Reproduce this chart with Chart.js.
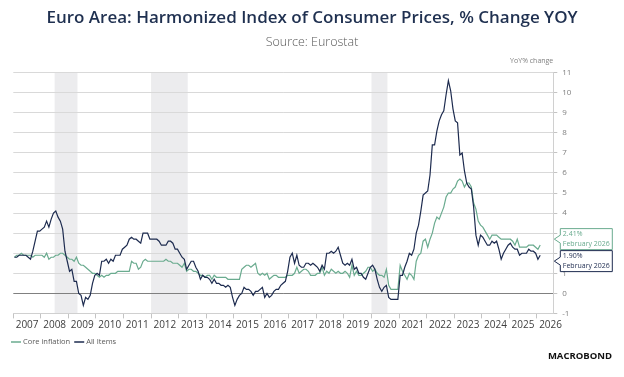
<!DOCTYPE html>
<html><head><meta charset="utf-8">
<script src="https://cdn.jsdelivr.net/npm/chart.js@4"></script>
<style>html,body{margin:0;padding:0;background:#fff;overflow:hidden}</style>
</head><body>
<canvas id="c" width="624" height="377"></canvas>
<script>
const startYear = 2007;
const titleText = "Euro Area: Harmonized Index of Consumer Prices, % Change YOY";
const subtitleText = "Source: Eurostat";
const unitText = "YoY% change";
const seriesNames = ["Core inflation", "All Items"];
const lastPeriod = "February 2026";
const recessions = [[2008.5, 2009.33], [2012.0, 2013.33], [2020.0, 2020.58]];
const yTicks = [-1, 0, 1, 2, 3, 4, 5, 6, 7, 8, 9, 10, 11];

const allItems = [
 1.8,1.8,1.9,1.9,1.9,1.9,1.8,1.7,2.1,2.6,3.1,3.1,
 3.2,3.3,3.6,3.3,3.7,4.0,4.1,3.8,3.6,3.2,2.1,1.6,
 1.1,1.2,0.6,0.6,0.0,-0.1,-0.6,-0.2,-0.3,-0.1,0.5,0.9,
 1.0,0.9,1.6,1.6,1.7,1.5,1.7,1.6,1.9,1.9,1.9,2.2,
 2.3,2.4,2.7,2.8,2.7,2.7,2.6,2.5,3.0,3.0,3.0,2.7,
 2.7,2.7,2.7,2.6,2.4,2.4,2.4,2.6,2.6,2.5,2.2,2.2,
 2.0,1.8,1.7,1.2,1.4,1.6,1.6,1.3,1.1,0.7,0.9,0.8,
 0.8,0.7,0.5,0.7,0.5,0.5,0.4,0.4,0.3,0.4,0.3,-0.2,
 -0.6,-0.3,-0.1,0.0,0.3,0.2,0.2,0.1,-0.1,0.1,0.1,0.2,
 0.3,-0.2,0.0,-0.2,-0.1,0.1,0.2,0.2,0.4,0.5,0.6,1.1,
 1.8,2.0,1.5,1.9,1.4,1.3,1.3,1.5,1.5,1.4,1.5,1.4,
 1.3,1.1,1.4,1.2,2.0,2.0,2.1,2.0,2.1,2.3,1.9,1.5,
 1.4,1.5,1.4,1.7,1.2,1.3,1.0,1.0,0.8,0.7,1.0,1.3,
 1.4,1.2,0.7,0.3,0.1,0.3,0.4,-0.2,-0.3,-0.3,-0.3,-0.3,
 0.9,0.9,1.3,1.6,2.0,1.9,2.2,3.0,3.4,4.1,4.9,5.0,
 5.1,5.9,7.4,7.4,8.1,8.6,8.9,9.1,9.9,10.6,10.1,9.2,
 8.6,8.5,6.9,7.0,6.1,5.5,5.3,5.2,4.3,2.9,2.4,2.9,
 2.8,2.6,2.4,2.4,2.6,2.5,2.6,2.2,1.7,2.0,2.2,2.4,
 2.5,2.3,2.2,2.2,1.9,2.0,2.0,2.0,2.2,2.1,2.1,2.0,
 1.7,1.90
];

const coreInflation = [
 1.8,1.9,1.9,2.0,1.9,1.9,1.9,1.9,1.8,1.9,1.9,1.9,
 1.9,1.8,2.0,1.7,1.8,1.8,1.9,1.9,2.0,2.0,1.9,1.8,
 1.7,1.7,1.6,1.8,1.5,1.4,1.4,1.3,1.2,1.1,1.0,1.0,
 0.9,0.8,0.9,0.8,0.9,0.9,1.0,1.0,1.0,1.1,1.1,1.1,
 1.1,1.1,1.1,1.6,1.5,1.5,1.2,1.3,1.6,1.7,1.6,1.6,
 1.6,1.6,1.6,1.6,1.6,1.6,1.7,1.6,1.6,1.5,1.5,1.5,
 1.4,1.3,1.5,1.1,1.2,1.2,1.1,1.1,1.0,0.9,0.9,0.8,
 0.9,0.9,0.7,0.9,0.8,0.8,0.8,0.8,0.8,0.7,0.7,0.7,
 0.7,0.7,0.7,1.2,1.3,1.4,1.4,1.3,1.4,1.5,1.0,0.9,
 1.0,0.9,1.0,0.7,0.8,0.9,0.9,0.8,0.8,0.8,0.8,0.9,
 0.9,0.9,1.0,1.3,1.0,1.1,1.2,1.2,1.1,0.9,0.9,0.9,
 1.0,1.0,1.3,0.9,1.1,1.0,1.2,1.1,1.0,1.1,1.0,1.0,
 1.1,1.0,0.8,1.4,0.9,1.1,0.9,0.9,1.0,1.1,1.3,1.3,
 1.1,1.2,1.0,0.9,0.9,0.8,1.2,0.4,0.2,0.2,0.2,0.2,
 1.4,1.1,0.9,0.7,1.0,0.9,0.7,1.6,1.9,2.0,2.6,2.7,
 2.3,2.7,3.0,3.5,3.8,3.7,4.0,4.3,4.8,5.0,5.0,5.2,
 5.3,5.6,5.7,5.6,5.3,5.5,5.5,5.3,4.5,4.2,3.6,3.4,
 3.3,3.1,2.9,2.7,2.9,2.9,2.9,2.8,2.7,2.7,2.7,2.7,
 2.7,2.6,2.4,2.7,2.3,2.3,2.3,2.3,2.4,2.4,2.4,2.3,
 2.2,2.41
];

const NAVY = '#1d2b4f', GREEN = '#6aab8f';
const toPoints = arr => arr.map((v, i) => ({x: startYear + (i + 0.5) / 12, y: v}));

Chart.defaults.font.family = "'Open Sans','Noto Sans',sans-serif";

const bandsPlugin = {
  id: 'bands',
  beforeDraw(chart) {
    const {ctx, chartArea: a, scales: {x}} = chart;
    ctx.save();
    ctx.fillStyle = '#ececee';
    recessions.forEach(([s, e]) => {
      const x0 = x.getPixelForValue(s), x1 = x.getPixelForValue(e);
      ctx.fillRect(x0, a.top, x1 - x0, a.bottom - a.top);
    });
    ctx.restore();
  }
};

function callout(ctx, cy, left, tipX, color, l1, l2) {
  const right = left + 52, h = 21, top = cy - h / 2;
  ctx.beginPath();
  ctx.moveTo(left, top); ctx.lineTo(right, top); ctx.lineTo(right, top + h); ctx.lineTo(left, top + h);
  ctx.lineTo(left, cy + 4); ctx.lineTo(tipX, cy); ctx.lineTo(left, cy - 4); ctx.closePath();
  ctx.fillStyle = '#fff'; ctx.fill();
  ctx.strokeStyle = color; ctx.lineWidth = 1; ctx.stroke();
  ctx.fillStyle = color; ctx.textAlign = 'left'; ctx.textBaseline = 'middle';
  ctx.font = "7px 'Open Sans'";
  ctx.fillText(l1, left + 2.5, top + 5.5);
  ctx.fillText(l2, left + 2.5, top + 15.5);
}

const textPlugin = {
  id: 'texts',
  afterDraw(chart) {
    const {ctx, chartArea: a, scales: {y}} = chart;
    ctx.save();
    ctx.textAlign = 'center'; ctx.textBaseline = 'middle';
    ctx.fillStyle = '#1f3050';
    ctx.font = "600 17px 'Open Sans'";
    ctx.fillText(titleText, 312, 18);
    ctx.fillStyle = '#595959';
    ctx.font = "300 12.5px 'Open Sans'";
    ctx.fillText(subtitleText, 312, 42);
    ctx.fillStyle = '#808080';
    ctx.font = "7px 'Open Sans'";
    ctx.textAlign = 'right';
    ctx.fillText(unitText, a.right, 61);
    // legend
    ctx.textAlign = 'left';
    ctx.font = "7.5px 'Open Sans'";
    let lx = 11;
    [[seriesNames[0], GREEN], [seriesNames[1], NAVY]].forEach(([t, c]) => {
      ctx.strokeStyle = c; ctx.lineWidth = 1.5;
      ctx.beginPath(); ctx.moveTo(lx, 342); ctx.lineTo(lx + 10, 342); ctx.stroke();
      ctx.fillStyle = '#595959';
      ctx.fillText(t, lx + 12, 342);
      lx += 12 + ctx.measureText(t).width + 4;
    });
    // logo
    ctx.fillStyle = '#111';
    ctx.font = "bold 9.5px 'Open Sans'";
    ctx.textAlign = 'right';
    ctx.fillText('MACROBOND', 612, 356);
    // callouts
    const cv = coreInflation[coreInflation.length - 1], av = allItems[allItems.length - 1];
    let cy1 = y.getPixelForValue(cv), cy2 = y.getPixelForValue(av);
    const mid = (cy1 + cy2) / 2;
    if (cy2 - cy1 < 22) { cy1 = mid - 11; cy2 = mid + 11; }
    callout(ctx, cy1, a.right + 7, a.right + 1, GREEN, cv.toFixed(2) + '%', lastPeriod);
    callout(ctx, cy2, a.right + 7, a.right + 1, NAVY, av.toFixed(2) + '%', lastPeriod);
    ctx.restore();
  }
};

new Chart(document.getElementById('c'), {
  type: 'line',
  data: {
    datasets: [
      {label: seriesNames[1], data: toPoints(allItems), borderColor: NAVY, borderWidth: 1.2, pointRadius: 0, tension: 0, order: 0},
      {label: seriesNames[0], data: toPoints(coreInflation), borderColor: GREEN, borderWidth: 1.2, pointRadius: 0, tension: 0, order: 1}
    ]
  },
  options: {
    responsive: false, animation: false, events: [],
    layout: {padding: {left: 13.3, top: 72.7, right: 0, bottom: 0}},
    plugins: {legend: {display: false}, tooltip: {enabled: false}, title: {display: false}},
    scales: {
      x: {
        type: 'linear', position: 'bottom', min: 2007, max: 2026.6,
        afterFit(s) { s.height = 63.6; },
        grid: {drawOnChartArea: false, drawTicks: true, tickLength: 5, color: '#c4c4c4'},
        border: {display: true, color: '#d0d0d0'},
        ticks: {stepSize: 1, includeBounds: false, autoSkip: false, maxRotation: 0, minRotation: 0,
          labelOffset: 13.8, padding: 1, color: '#404040', font: {size: 10},
          callback: v => Number.isInteger(v) ? String(v) : ''}
      },
      y: {
        position: 'right', min: yTicks[0], max: yTicks[yTicks.length - 1],
        afterFit(s) { s.width = 70.7; },
        afterBuildTicks(s) { s.ticks = yTicks.map(v => ({value: v})); },
        grid: {color: c => (c.tick && c.tick.value === 0) ? '#808080' : '#d9d9d9', tickLength: 4, tickColor: '#c4c4c4', lineWidth: 1},
        border: {display: true, color: '#d0d0d0'},
        ticks: {color: '#7f7f7f', font: {size: 8}, padding: 5, callback: v => String(v)}
      }
    }
  },
  plugins: [bandsPlugin, textPlugin]
});
</script>
</body></html>
